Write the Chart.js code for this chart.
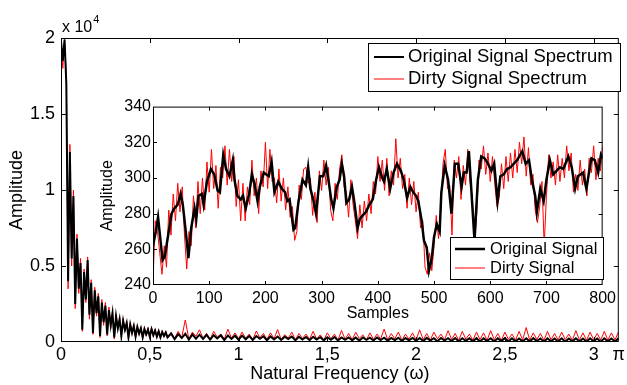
<!DOCTYPE html>
<html>
<head>
<meta charset="utf-8">
<script src="https://cdn.jsdelivr.net/npm/chart.js@4.4.0/dist/chart.umd.min.js"></script>
<style>
    html, body { margin: 0; padding: 0; background: #fff; }
    #wrap { position: relative; width: 627px; height: 385px; }
    #mainChart { position: absolute; left: 0; top: 0; }
    #insetChart { position: absolute; left: 95px; top: 95px; }
</style>
</head>
<body>
<div id="wrap">
    <canvas id="mainChart" width="627" height="385"></canvas>
    <canvas id="insetChart" width="525" height="230"></canvas>
</div>
<script>
// spectrum, omega 0 .. 0.60 in steps of 0.01
const specOrigLow = [
    19800, 18500, 19900, 17000, 4000, 12500, 5500, 9600, 2500, 6800,
    3500, 5200, 800, 4600, 2800, 5400, 1800, 3900, 600, 3400,
    1900, 3000, 400, 2600, 1300, 2400, 500, 2100, 1100, 1900,
    300, 1700, 900, 1500, 400, 1400, 800, 1250, 300, 1150,
    600, 1050, 350, 980, 550, 900, 300, 850, 500, 800,
    350, 850, 450, 750, 350, 700, 300, 650, 400, 620,
    300,
];
const specDirtyLow = [
    19900, 18000, 19900, 17500, 3500, 13000, 5000, 10000, 2200, 7100,
    3200, 5500, 700, 4800, 2600, 5600, 1500, 4100, 500, 3600,
    1700, 3200, 300, 2800, 1100, 2600, 400, 2300, 900, 2000,
    200, 1850, 800, 1650, 300, 1550, 700, 1350, 200, 1300,
    500, 1150, 300, 1100, 450, 1000, 250, 950, 400, 950,
    300, 950, 350, 850, 300, 800, 250, 750, 350, 720,
    250,
];
// spectrum, omega 0.62 .. 3.14 in steps of 0.02
const specOrigHigh = [
    560, 180, 520, 260, 540, 150, 500, 220, 480, 200,
    470, 160, 450, 230, 440, 120, 430, 200, 410, 150,
    420, 180, 400, 130, 390, 210, 380, 120, 370, 170,
    360, 140, 350, 190, 360, 110, 340, 160, 330, 120,
    340, 170, 320, 110, 310, 150, 320, 100, 300, 140,
    300, 120, 290, 90, 300, 140, 280, 100, 290, 130,
    280, 90, 270, 120, 280, 70, 260, 110, 270, 80,
    260, 60, 270, 100, 250, 50, 260, 90, 250, 60,
    260, 40, 250, 80, 240, 50, 250, 30, 240, 70,
    250, 40, 240, 60, 250, 30, 240, 50, 230, 40,
    240, 30, 250, 60, 230, 20, 240, 50, 230, 30,
    240, 20, 230, 50, 240, 30, 230, 20, 240, 40,
    230, 20, 240, 40, 230, 30, 240,
];
const specDirtyHigh = [
    620, 250, 700, 300, 1450, 200, 650, 380, 800, 250,
    560, 180, 700, 320, 520, 200, 850, 260, 600, 220,
    650, 250, 520, 150, 720, 280, 560, 180, 600, 220,
    820, 160, 480, 260, 650, 130, 560, 240, 520, 180,
    700, 200, 470, 140, 600, 220, 520, 120, 760, 190,
    560, 150, 640, 240, 470, 130, 600, 180, 520, 200,
    850, 140, 560, 220, 650, 120, 520, 190, 600, 130,
    800, 160, 560, 120, 650, 210, 520, 140, 750, 170,
    560, 110, 700, 190, 520, 130, 650, 160, 600, 120,
    750, 150, 560, 110, 650, 180, 520, 130, 700, 140,
    950, 120, 600, 170, 560, 110, 700, 150, 560, 130,
    650, 160, 520, 120, 750, 140, 600, 110, 650, 150,
    560, 130, 700, 120, 600, 140, 650,
];

// inset: original signal (smooth) at read-off sample positions
const origSamples = [
    0, 5, 9, 13, 17, 21, 27, 33, 38, 44,
    49, 53, 59, 63, 68, 74, 77, 81, 87, 90,
    96, 103, 109, 115, 119, 125, 130, 136, 142, 145,
    150, 156, 160, 165, 171, 176, 181, 186, 190, 197,
    206, 211, 216, 223, 229, 235, 239, 243, 250, 253,
    259, 266, 272, 276, 280, 285, 290, 297, 303, 308,
    313, 317, 321, 327, 332, 336, 340, 344, 349, 354,
    358, 364, 368, 373, 379, 385, 391, 397, 402, 408,
    411, 416, 422, 428, 434, 441, 446, 452, 458, 463,
    468, 472, 478, 482, 487, 491, 496, 500, 505, 510,
    513, 519, 525, 531, 537, 543, 549, 553, 558, 562,
    566, 572, 578, 584, 590, 596, 602, 607, 613, 618,
    624, 630, 636, 642, 648, 657, 663, 669, 674, 680,
    683, 689, 695, 700, 706, 712, 718, 724, 730, 739,
    745, 751, 756, 765, 771, 780, 786, 792, 797, 800,
];
const origValues = [
    262, 270, 278, 266, 254, 256, 268, 280, 283, 285,
    291, 285, 268, 255, 272, 283, 277, 290, 291, 285,
    298, 305, 302, 293, 292, 313, 305, 301, 310, 299,
    290, 288, 290, 283, 291, 302, 296, 287, 295, 303,
    301, 309, 292, 298, 294, 292, 287, 288, 271, 272,
    287, 299, 296, 306, 294, 288, 280, 301, 301, 307,
    297, 288, 283, 295, 299, 308, 301, 286, 288, 295,
    287, 272, 277, 279, 281, 285, 288, 299, 306, 300,
    298, 305, 294, 303, 308, 304, 299, 289, 295, 292,
    290, 287, 276, 265, 261, 248, 255, 267, 274, 270,
    292, 307, 299, 280, 308, 308, 295, 303, 303, 315,
    295, 265, 299, 312, 311, 308, 304, 308, 287, 301,
    302, 305, 306, 308, 310, 315, 308, 310, 299, 290,
    281, 294, 287, 299, 310, 302, 304, 306, 305, 312,
    306, 294, 301, 303, 294, 311, 310, 303, 313, 311,
];
// inset: dirty signal, every 4th sample from 0 to 800
const dirtyValues = [
    242, 276, 270, 258, 246, 262, 250, 282, 268, 291,
    276, 297, 281, 295, 268, 249, 270, 262, 290, 272,
    298, 280, 300, 282, 309, 292, 316, 294, 307, 283,
    306, 300, 318, 296, 316, 298, 312, 284, 299, 276,
    297, 276, 295, 285, 310, 290, 300, 280, 304, 295,
    320, 294, 316, 298, 300, 286, 305, 287, 300, 282,
    295, 278, 284, 265, 270, 296, 288, 305, 306, 297,
    300, 279, 292, 275, 304, 293, 310, 296, 306, 282,
    276, 297, 288, 305, 313, 295, 292, 278, 299, 285,
    276, 266, 285, 272, 287, 276, 291, 280, 298, 291,
    312, 298, 310, 293, 311, 290, 304, 296, 322, 300,
    311, 294, 302, 283, 300, 285, 298, 281, 292, 272,
    276, 250, 246, 258, 248, 262, 279, 266, 282, 308,
    316, 294, 296, 268, 310, 300, 312, 288, 307, 296,
    316, 298, 290, 262, 280, 310, 305, 318, 302, 314,
    298, 312, 297, 284, 289, 308, 294, 312, 298, 314,
    300, 316, 303, 320, 308, 323, 301, 317, 296, 302,
    282, 275, 284, 298, 262, 290, 313, 300, 309, 296,
    313, 298, 311, 300, 318, 304, 314, 292, 302, 293,
    310, 296, 305, 290, 311, 303, 318, 299, 311, 304,
    318,
];

const mainXTicks = [0, 0.5, 1, 1.5, 2, 2.5, 3, Math.PI];
const mainXTickLabels = ["0", "0,5", "1", "1,5", "2", "2,5", "3", "\u03c0"];
const mainYTicks = [0, 5000, 10000, 15000, 20000];
const mainYTickLabels = ["0", "0.5", "1", "1.5", "2"];
const insetXTicks = [0, 100, 200, 300, 400, 500, 600, 700, 800];
const insetYTicks = [240, 260, 280, 300, 320, 340];

const FONT = "'Liberation Sans', Arial, Helvetica, sans-serif";

function spectrumPoints(low, high) {
    const pts = low.map((a, i) => ({ x: i * 0.01, y: a }));
    return pts.concat(high.map((a, i) => ({ x: 0.62 + i * 0.02, y: a })));
}

// matlab style box, inward ticks and a framed legend
const matlabAxes = {
    id: "matlabAxes",
    beforeDatasetsDraw(chart, args, opts) {
        if (!opts.fillArea) return;
        const { ctx, chartArea: a } = chart;
        ctx.save();
        ctx.fillStyle = "#fff";
        ctx.fillRect(a.left, a.top, a.width, a.height);
        ctx.restore();
    },
    afterDatasetsDraw(chart, args, opts) {
        const { ctx, chartArea: a, scales } = chart;
        const tl = opts.tickLength;
        ctx.save();
        ctx.strokeStyle = "#000";
        ctx.lineWidth = 1;
        ctx.beginPath();
        scales.x.ticks.forEach((t) => {
            if (t.value <= scales.x.min || t.value >= scales.x.max) return;
            const px = Math.round(scales.x.getPixelForValue(t.value)) + 0.5;
            ctx.moveTo(px, a.bottom);
            ctx.lineTo(px, a.bottom - tl);
            ctx.moveTo(px, a.top);
            ctx.lineTo(px, a.top + tl);
        });
        scales.y.ticks.forEach((t) => {
            if (t.value <= scales.y.min || t.value >= scales.y.max) return;
            const py = Math.round(scales.y.getPixelForValue(t.value)) + 0.5;
            ctx.moveTo(a.left, py);
            ctx.lineTo(a.left + tl, py);
            ctx.moveTo(a.right, py);
            ctx.lineTo(a.right - tl, py);
        });
        ctx.stroke();
        ctx.strokeRect(a.left + 0.5, a.top + 0.5, a.width - 1, a.height - 1);

        const lg = opts.legend;
        ctx.fillStyle = "#fff";
        ctx.fillRect(lg.x, lg.y, lg.w, lg.h);
        ctx.strokeRect(lg.x + 0.5, lg.y + 0.5, lg.w, lg.h);
        ctx.font = lg.font;
        ctx.textBaseline = "middle";
        chart.data.datasets.forEach((ds, i) => {
            const y = lg.y + lg.rowTop + i * lg.rowGap;
            ctx.strokeStyle = ds.borderColor;
            ctx.lineWidth = ds.borderWidth;
            ctx.beginPath();
            ctx.moveTo(lg.x + lg.sampleStart, y);
            ctx.lineTo(lg.x + lg.sampleStart + lg.sampleLen, y);
            ctx.stroke();
            ctx.fillStyle = "#000";
            ctx.fillText(ds.label, lg.x + lg.textStart, y);
        });
        ctx.restore();
    },
    afterDraw(chart, args, opts) {
        const ex = opts.exponent;
        if (!ex) return;
        const { ctx } = chart;
        ctx.save();
        ctx.fillStyle = "#000";
        ctx.textBaseline = "alphabetic";
        ctx.font = "16px " + FONT;
        ctx.fillText("x 10", ex.x, ex.y);
        const w = ctx.measureText("x 10").width;
        ctx.font = "11px " + FONT;
        ctx.fillText("4", ex.x + w + 1, ex.y - 9);
        ctx.restore();
    },
};

document.addEventListener("DOMContentLoaded", () => {
    new Chart(document.getElementById("mainChart").getContext("2d"), {
        type: "line",
        data: {
            datasets: [
                {
                    label: "Original Signal Spectrum",
                    data: spectrumPoints(specOrigLow, specOrigHigh),
                    borderColor: "#000000",
                    borderWidth: 2,
                },
                {
                    label: "Dirty Signal Spectrum",
                    data: spectrumPoints(specDirtyLow, specDirtyHigh),
                    borderColor: "#ff0000",
                    borderWidth: 1,
                },
            ],
        },
        options: {
            responsive: false,
            animation: false,
            layout: { padding: { top: 38, right: 2, left: 0, bottom: 0 } },
            elements: { point: { radius: 0 }, line: { tension: 0 } },
            scales: {
                x: {
                    type: "linear",
                    min: 0,
                    max: Math.PI,
                    afterFit: (s) => { s.height = 43; },
                    afterBuildTicks: (s) => { s.ticks = mainXTicks.map((v) => ({ value: v })); },
                    grid: { display: false, drawTicks: false },
                    border: { display: false },
                    ticks: {
                        padding: 2,
                        color: "#000",
                        font: { family: FONT, size: 18 },
                        maxRotation: 0,
                        autoSkip: false,
                        callback: (v, i) => mainXTickLabels[i],
                    },
                    title: {
                        display: true,
                        text: "Natural Frequency (\u03c9)",
                        color: "#000",
                        font: { family: FONT, size: 18 },
                        padding: { top: 0, bottom: 0 },
                    },
                },
                y: {
                    min: 0,
                    max: 20000,
                    afterFit: (s) => { s.width = 61; },
                    afterBuildTicks: (s) => { s.ticks = mainYTicks.map((v) => ({ value: v })); },
                    grid: { display: false, drawTicks: false },
                    border: { display: false },
                    ticks: {
                        padding: 6,
                        color: "#000",
                        font: { family: FONT, size: 18 },
                        autoSkip: false,
                        callback: (v, i) => mainYTickLabels[i],
                    },
                    title: {
                        display: true,
                        text: "Amplitude",
                        color: "#000",
                        font: { family: FONT, size: 18 },
                        padding: { top: 6, bottom: 0 },
                    },
                },
            },
            plugins: {
                legend: { display: false },
                tooltip: { enabled: false },
                matlabAxes: {
                    tickLength: 5,
                    exponent: { x: 62, y: 32 },
                    legend: {
                        x: 368, y: 43, w: 252, h: 48,
                        rowTop: 14, rowGap: 22,
                        sampleStart: 6, sampleLen: 30, textStart: 40,
                        font: "18.5px " + FONT,
                    },
                },
            },
        },
        plugins: [matlabAxes],
    });

    new Chart(document.getElementById("insetChart").getContext("2d"), {
        type: "line",
        data: {
            datasets: [
                {
                    label: "Original Signal",
                    data: origSamples.map((s, i) => ({ x: s, y: origValues[i] })),
                    borderColor: "#000000",
                    borderWidth: 2.5,
                },
                {
                    label: "Dirty Signal",
                    data: dirtyValues.map((v, i) => ({ x: i * 4, y: v })),
                    borderColor: "#ff0000",
                    borderWidth: 1,
                },
            ],
        },
        options: {
            responsive: false,
            animation: false,
            layout: { padding: { top: 8, right: 12, left: 0, bottom: 0 } },
            elements: { point: { radius: 0 }, line: { tension: 0 } },
            scales: {
                x: {
                    type: "linear",
                    min: 0,
                    max: 800,
                    afterFit: (s) => { s.height = 40; },
                    afterBuildTicks: (s) => { s.ticks = insetXTicks.map((v) => ({ value: v })); },
                    grid: { display: false, drawTicks: false },
                    border: { display: false },
                    ticks: {
                        padding: 4,
                        color: "#000",
                        font: { family: FONT, size: 16 },
                        maxRotation: 0,
                        autoSkip: false,
                    },
                    title: {
                        display: true,
                        text: "Samples",
                        color: "#000",
                        font: { family: FONT, size: 16 },
                        padding: { top: 0, bottom: 2 },
                    },
                },
                y: {
                    min: 240,
                    max: 340,
                    afterFit: (s) => { s.width = 58; },
                    afterBuildTicks: (s) => { s.ticks = insetYTicks.map((v) => ({ value: v })); },
                    grid: { display: false, drawTicks: false },
                    border: { display: false },
                    ticks: {
                        padding: 2,
                        color: "#000",
                        font: { family: FONT, size: 16 },
                        autoSkip: false,
                    },
                    title: {
                        display: true,
                        text: "Amplitude",
                        color: "#000",
                        font: { family: FONT, size: 16 },
                        padding: { top: 3, bottom: 0 },
                    },
                },
            },
            plugins: {
                legend: { display: false },
                tooltip: { enabled: false },
                matlabAxes: {
                    fillArea: true,
                    tickLength: 4,
                    legend: {
                        x: 355, y: 142, w: 153, h: 42,
                        rowTop: 12, rowGap: 19,
                        sampleStart: 5, sampleLen: 30, textStart: 40,
                        font: "16.5px " + FONT,
                    },
                },
            },
        },
        plugins: [matlabAxes],
    });
});
</script>
</body>
</html>
